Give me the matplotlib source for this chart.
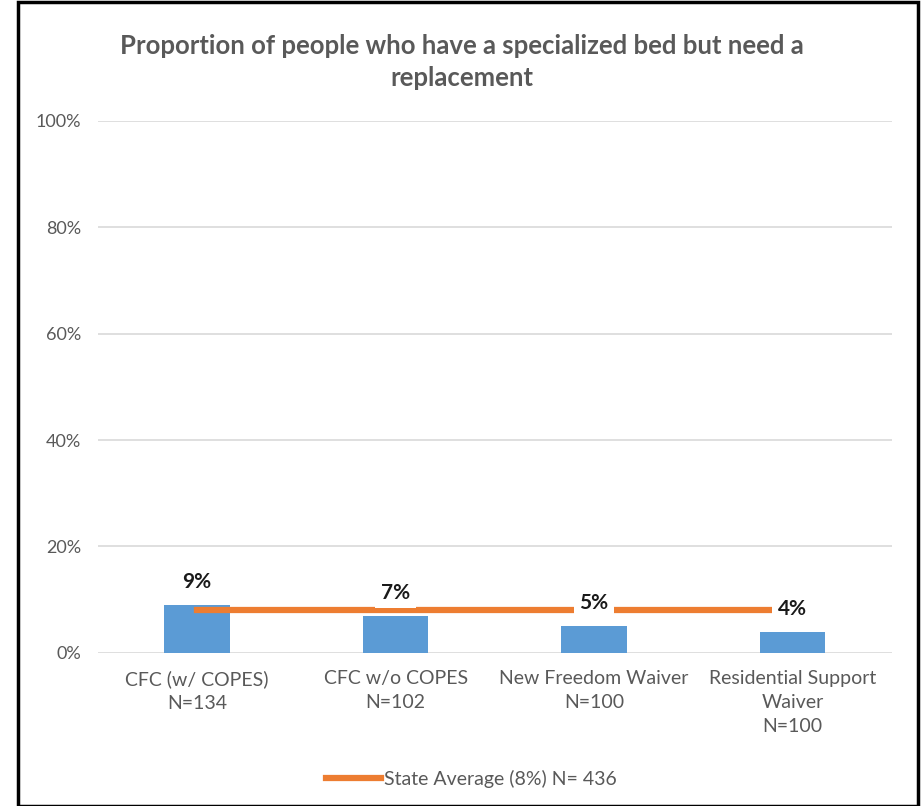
import matplotlib.pyplot as plt
from matplotlib.patches import Rectangle

# --- data ---
categories = ["CFC (w/ COPES)\nN=134", "CFC w/o COPES\nN=102",
              "New Freedom Waiver\nN=100", "Residential Support\nWaiver\nN=100"]
values = [0.09, 0.07, 0.05, 0.04]
state_avg = [0.08, 0.08, 0.08, 0.08]
avg_label = "State Average (8%) N= 436"
yticks = [0, 0.2, 0.4, 0.6, 0.8, 1.0]

plt.rcParams['font.family'] = ['Lato', 'DejaVu Sans']

fig = plt.figure(figsize=(9.24, 8.06), dpi=100)
ax = fig.add_axes([0.106, 0.19, 0.859, 0.66])

x = list(range(len(categories)))
ax.bar(x, values, width=0.33, color="#5B9BD5", zorder=2)
ax.plot(x, state_avg, color="#ED7D31", linewidth=4.5, zorder=3, label=avg_label)

for xi, v in zip(x, values):
    ax.text(xi, v + 0.043, f"{v:.0%}", ha="center", va="center", fontsize=15,
            fontweight="bold", color="#1a1a1a", zorder=4,
            bbox=dict(facecolor="white", edgecolor="none", pad=4))

ax.set_xlim(-0.5, len(categories) - 0.5)
ax.set_ylim(0, 1)
ax.set_yticks(yticks)
ax.set_yticklabels([f"{t:.0%}" for t in yticks])
ax.set_xticks(x)
ax.set_xticklabels(categories, linespacing=1.5)
ax.tick_params(axis="both", length=0, labelcolor="#595959")
ax.tick_params(axis="x", pad=12.5, labelsize=14)
ax.tick_params(axis="y", pad=12, labelsize=13)
ax.grid(axis="y", color="#D9D9D9", linewidth=1.2, zorder=0)
for s in ax.spines.values():
    s.set_visible(False)

fig.suptitle("Proportion of people who have a specialized bed but need a\nreplacement",
             y=0.9235, va="center", fontsize=18.5, fontweight="bold", color="#595959",
             linespacing=1.4)

fig.legend(loc="center", bbox_to_anchor=(0.51, 0.034), frameon=False, fontsize=14,
           handlelength=2.8, handletextpad=0.15, labelcolor="#595959")

# outer frame
fig.patches.append(Rectangle((18 / 924, 0), 900 / 924, 804 / 806, transform=fig.transFigure,
                             fill=False, edgecolor="black", linewidth=2.5))

fig.savefig("out.png", dpi=100)
